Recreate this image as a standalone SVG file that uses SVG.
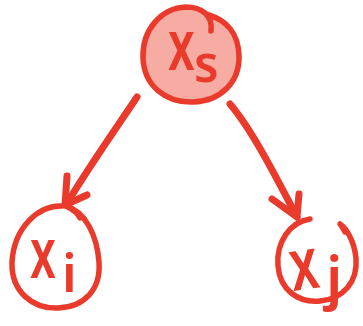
<svg xmlns="http://www.w3.org/2000/svg" width="363" height="326" viewBox="0 0 363 326">
  <style>
    .ring { fill: none; stroke: #ea3a2b; stroke-width: 5.5; stroke-linecap: round; stroke-linejoin: round; }
    .shade { fill: #f6aba3; stroke: none; }
    .lbl { fill: #ea3a2b; font-family: "Noto Sans", "DejaVu Sans", sans-serif; font-weight: 600; }
    .edge { fill: none; stroke: #ea3a2b; stroke-width: 7; stroke-linecap: round; stroke-linejoin: round; }
  </style>
  <rect width="363" height="326" fill="#ffffff"/>

  <!-- source node -->
  <g id="node-xs">
    <ellipse class="shade" cx="191" cy="55" rx="47" ry="47"/>
    <path class="ring" d="M 211 31 C 213 15, 201 7, 186 7 C 161 8, 142 30, 143 58 C 144 86, 166 103, 193 102 C 221 101, 240 82, 239 55 C 238 34, 227 20, 208 15"/>
    <text class="lbl" transform="translate(168,70) scale(0.68,1)" font-size="70">x</text>
    <text class="lbl" x="194" y="82" font-size="50">s</text>
  </g>

  <!-- left child -->
  <g id="node-xi">
    <path class="ring" d="M 62 206 C 38 205, 14 228, 12 262 C 11 292, 33 309, 58 308 C 84 307, 101 290, 99 262 C 97 236, 86 212, 66 206 C 72 209, 78 213, 80 218"/>
    <text class="lbl" transform="translate(30,278) scale(0.66,1)" font-size="70">x</text>
    <text class="lbl" x="62" y="292" font-size="52">i</text>
  </g>

  <!-- right child -->
  <g id="node-xj">
    <path class="ring" d="M 310 219 C 290 222, 276 242, 278 266 C 280 290, 298 303, 320 301 C 343 299, 358 282, 356 258 C 354 240, 346 228, 340 224 C 342 226, 344 230, 345 232"/>
    <text class="lbl" transform="translate(293,291) rotate(-8) scale(0.7,1)" font-size="72">x</text>
    <text class="lbl" x="326" y="298" font-size="58">j</text>
  </g>

  <!-- connectors -->
  <g id="edges">
    <path class="edge" d="M 137 97 C 115 130, 88 168, 66 205"/>
    <path class="edge" d="M 67 176 L 65 205 L 87 195"/>
    <path class="edge" d="M 230 104 C 252 130, 275 175, 297 217"/>
    <path class="edge" d="M 272 199 L 297 217 L 299 194"/>
  </g>
</svg>
